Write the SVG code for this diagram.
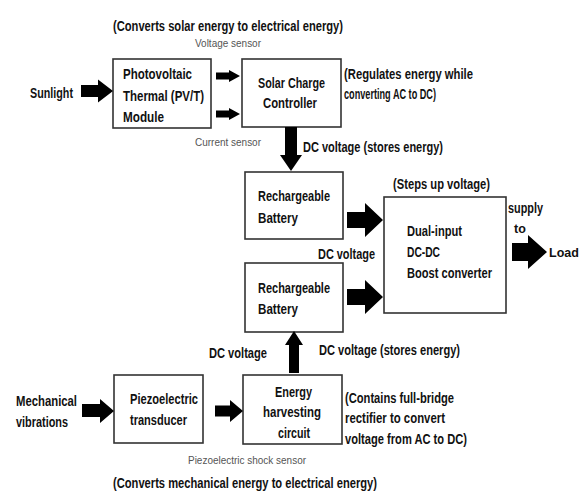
<svg xmlns="http://www.w3.org/2000/svg" width="579" height="491" viewBox="0 0 579 491">
<style>
.box{fill:#fff;stroke:#333;stroke-width:1.6}
.t{font-family:"Liberation Sans",Arial,sans-serif;font-weight:bold;font-size:15.5px;fill:#111}
.s{font-family:"Liberation Sans",Arial,sans-serif;font-size:11px;fill:#555}
.arr{fill:#000}
</style>
<rect width="579" height="491" fill="#fff"/>
<g id="labels">
<text class="t" x="30" y="98" textLength="43" lengthAdjust="spacingAndGlyphs">Sunlight</text>
<text class="t" x="113" y="31" textLength="230" lengthAdjust="spacingAndGlyphs">(Converts solar energy to electrical energy)</text>
<text class="s" x="195" y="47" textLength="66" lengthAdjust="spacingAndGlyphs">Voltage sensor</text>
<text class="s" x="195" y="146" textLength="66" lengthAdjust="spacingAndGlyphs">Current sensor</text>
<text class="t" x="344" y="79" textLength="129" lengthAdjust="spacingAndGlyphs">(Regulates energy while</text>
<text class="t" x="344" y="99" textLength="92" lengthAdjust="spacingAndGlyphs">converting AC to DC)</text>
<text class="t" x="303" y="152" textLength="140" lengthAdjust="spacingAndGlyphs">DC voltage (stores energy)</text>
<text class="t" x="393" y="189" textLength="97" lengthAdjust="spacingAndGlyphs">(Steps up voltage)</text>
<text class="t" x="318" y="259" textLength="57" lengthAdjust="spacingAndGlyphs">DC voltage</text>
<text class="t" x="508" y="213" textLength="35" lengthAdjust="spacingAndGlyphs">supply</text>
<text class="t" x="514" y="233" style="font-size:12.5px">to</text>
<text class="t" x="549" y="257" style="font-size:12.5px">Load</text>
<text class="t" x="209" y="358" textLength="58" lengthAdjust="spacingAndGlyphs">DC voltage</text>
<text class="t" x="319" y="355" textLength="141" lengthAdjust="spacingAndGlyphs">DC voltage (stores energy)</text>
<text class="t" x="345" y="403" textLength="109" lengthAdjust="spacingAndGlyphs">(Contains full-bridge</text>
<text class="t" x="345" y="423" textLength="100" lengthAdjust="spacingAndGlyphs">rectifier to convert</text>
<text class="t" x="345" y="444" textLength="122" lengthAdjust="spacingAndGlyphs">voltage from AC to DC)</text>
<text class="s" x="188" y="464" textLength="118" lengthAdjust="spacingAndGlyphs">Piezoelectric shock sensor</text>
<text class="t" x="113" y="488" textLength="264" lengthAdjust="spacingAndGlyphs">(Converts mechanical energy to electrical energy)</text>
<text class="t" x="16" y="406" textLength="61" lengthAdjust="spacingAndGlyphs">Mechanical</text>
<text class="t" x="16" y="427" textLength="52" lengthAdjust="spacingAndGlyphs">vibrations</text>
</g>
<g id="pvt">
<rect class="box" x="113" y="59" width="98" height="69"/>
<text class="t" x="123" y="79" textLength="69" lengthAdjust="spacingAndGlyphs">Photovoltaic</text>
<text class="t" x="123" y="101" textLength="81" lengthAdjust="spacingAndGlyphs">Thermal (PV/T)</text>
<text class="t" x="123" y="122" textLength="41" lengthAdjust="spacingAndGlyphs">Module</text>
</g>
<g id="scc">
<rect class="box" x="242" y="59" width="99" height="68"/>
<text class="t" x="258" y="88" textLength="67" lengthAdjust="spacingAndGlyphs">Solar Charge</text>
<text class="t" x="263" y="108" textLength="54" lengthAdjust="spacingAndGlyphs">Controller</text>
</g>
<g id="battery1">
<rect class="box" x="245" y="172" width="98" height="67"/>
<text class="t" x="258" y="201" textLength="72" lengthAdjust="spacingAndGlyphs">Rechargeable</text>
<text class="t" x="258" y="223" textLength="40" lengthAdjust="spacingAndGlyphs">Battery</text>
</g>
<g id="battery2">
<rect class="box" x="245" y="263" width="98" height="69"/>
<text class="t" x="258" y="293" textLength="72" lengthAdjust="spacingAndGlyphs">Rechargeable</text>
<text class="t" x="258" y="314" textLength="40" lengthAdjust="spacingAndGlyphs">Battery</text>
</g>
<g id="boost">
<rect class="box" x="384" y="197" width="122" height="116"/>
<text class="t" x="407" y="236" textLength="55" lengthAdjust="spacingAndGlyphs">Dual-input</text>
<text class="t" x="407" y="257" textLength="33" lengthAdjust="spacingAndGlyphs">DC-DC</text>
<text class="t" x="407" y="278" textLength="85" lengthAdjust="spacingAndGlyphs">Boost converter</text>
</g>
<g id="piezo">
<rect class="box" x="114" y="375" width="89" height="68"/>
<text class="t" x="130" y="404" textLength="68" lengthAdjust="spacingAndGlyphs">Piezoelectric</text>
<text class="t" x="130" y="425" textLength="57" lengthAdjust="spacingAndGlyphs">transducer</text>
</g>
<g id="harvest">
<rect class="box" x="243" y="375" width="99" height="69"/>
<text class="t" x="275" y="397" textLength="37" lengthAdjust="spacingAndGlyphs">Energy</text>
<text class="t" x="263" y="417" textLength="58" lengthAdjust="spacingAndGlyphs">harvesting</text>
<text class="t" x="278" y="438" textLength="32" lengthAdjust="spacingAndGlyphs">circuit</text>
</g>
<g id="connectors">
<polygon class="arr" points="81,85 98,85 98,79.5 113,91 98,102.5 98,97 81,97"/>
<polygon class="arr" points="216,72.5 229,72.5 229,70 240,76 229,82 229,79.5 216,79.5"/>
<polygon class="arr" points="216,110.5 229,110.5 229,108 240,114 229,120 229,117.5 216,117.5"/>
<polygon class="arr" points="285,127 297,127 297,155 302,155 291,171 280,155 285,155"/>
<polygon class="arr" points="347,212 365,212 365,203 383,220 365,237 365,228 347,228"/>
<polygon class="arr" points="347,289 365,289 365,280 383,297 365,314 365,305 347,305"/>
<polygon class="arr" points="512,243 528,243 528,235 547,252 528,269 528,261 512,261"/>
<polygon class="arr" points="82,404 100,404 100,399 114,411 100,423 100,417 82,417"/>
<polygon class="arr" points="215,405.5 230,405.5 230,400 243,411 230,422 230,416.5 215,416.5"/>
<polygon class="arr" points="289,373 299,373 299,345 303,345 294,331 285,345 289,345"/>
</g>
</svg>
